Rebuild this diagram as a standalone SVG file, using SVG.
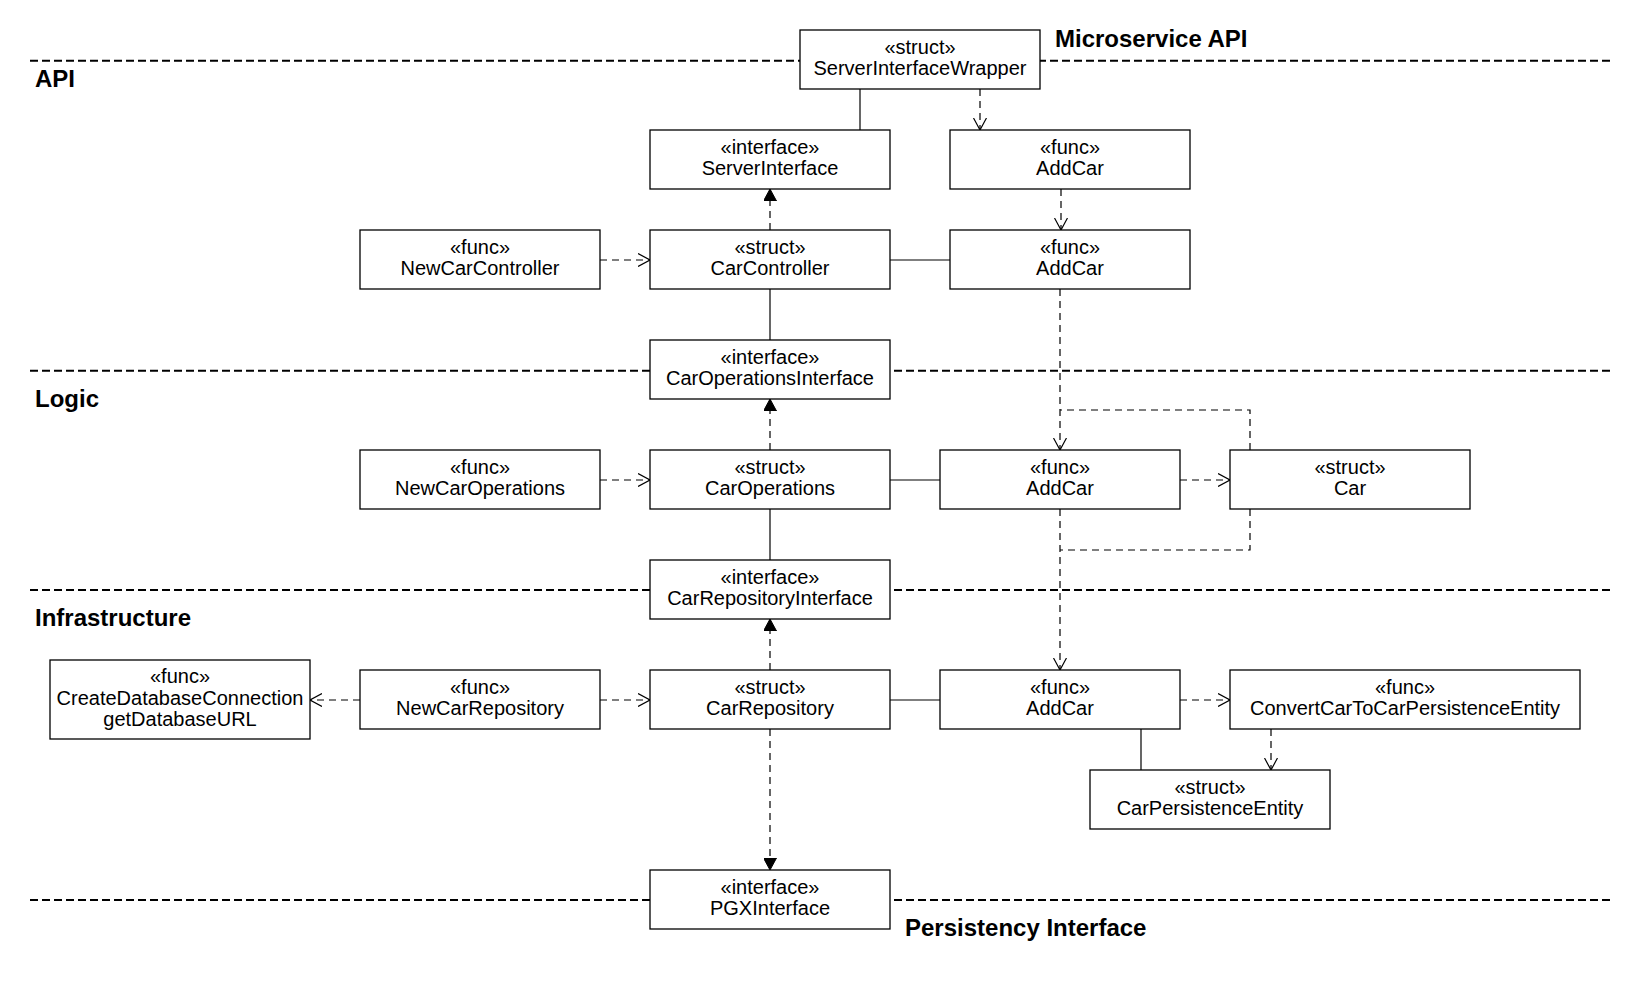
<svg xmlns="http://www.w3.org/2000/svg" width="1650" height="1000" viewBox="0 0 1650 1000">
<defs>
<style>
.bg{fill:#ffffff}
.sep{stroke:#000;stroke-width:2;stroke-dasharray:8 4;fill:none}
.box{fill:#ffffff;stroke:#000;stroke-width:1.3}
.t{font-family:"Liberation Sans",Arial,Helvetica,sans-serif;font-size:20px;fill:#000;text-anchor:middle}
.h{font-family:"Liberation Sans",Arial,Helvetica,sans-serif;font-size:24px;font-weight:bold;fill:#000}
.solid{stroke:#000;stroke-width:1.2;fill:none}
.dash{stroke:#000;stroke-width:1.2;fill:none;stroke-dasharray:7 5}
.dep{stroke:#000;stroke-width:1.2;fill:none;stroke-dasharray:7 5;marker-end:url(#open)}
.impl{stroke:#000;stroke-width:1.2;fill:none;stroke-dasharray:7 5;marker-end:url(#block)}
</style>
<marker id="open" viewBox="0 0 12 14" refX="12" refY="7" markerWidth="12" markerHeight="14" markerUnits="userSpaceOnUse" orient="auto">
<path d="M0,0.5 L12,7 L0,13.5" fill="none" stroke="#000" stroke-width="1.2"/>
</marker>
<marker id="block" viewBox="0 0 12 13" refX="12" refY="6.5" markerWidth="12" markerHeight="13" markerUnits="userSpaceOnUse" orient="auto">
<path d="M0,0 L12,6.5 L0,13 Z" fill="#000" stroke="#000" stroke-width="1"/>
</marker>
</defs>
<rect class="bg" x="0" y="0" width="1650" height="1000"/>

<g id="layers">
<line class="sep" x1="30" y1="60.7" x2="1612" y2="60.7"/>
<line class="sep" x1="30" y1="370.7" x2="1612" y2="370.7"/>
<line class="sep" x1="30" y1="590" x2="1612" y2="590"/>
<line class="sep" x1="30" y1="900" x2="1612" y2="900"/>
<text class="h" x="1055" y="47">Microservice API</text>
<text class="h" x="35" y="87">API</text>
<text class="h" x="35" y="407">Logic</text>
<text class="h" x="35" y="626">Infrastructure</text>
<text class="h" x="905" y="936">Persistency Interface</text>
</g>

<g id="connectors">
<line class="solid" x1="860" y1="89" x2="860" y2="130"/>
<line class="dep" x1="980" y1="89" x2="980" y2="130"/>
<line class="dep" x1="1061" y1="189" x2="1061" y2="230"/>
<line class="impl" x1="770" y1="230" x2="770" y2="189"/>
<line class="dep" x1="600" y1="260" x2="650" y2="260"/>
<line class="solid" x1="890" y1="260" x2="950" y2="260"/>
<line class="solid" x1="770" y1="289" x2="770" y2="340"/>
<line class="dep" x1="1060" y1="289" x2="1060" y2="450"/>
<polyline class="dash" points="1250,450 1250,410 1060,410"/>
<line class="impl" x1="770" y1="450" x2="770" y2="399"/>
<line class="dep" x1="600" y1="480" x2="650" y2="480"/>
<line class="solid" x1="890" y1="480" x2="940" y2="480"/>
<line class="dep" x1="1180" y1="480" x2="1230" y2="480"/>
<line class="solid" x1="770" y1="509" x2="770" y2="560"/>
<polyline class="dash" points="1250,509 1250,550 1060,550"/>
<line class="dep" x1="1060" y1="509" x2="1060" y2="670"/>
<line class="impl" x1="770" y1="670" x2="770" y2="619"/>
<line class="dep" x1="360" y1="700" x2="310" y2="700"/>
<line class="dep" x1="600" y1="700" x2="650" y2="700"/>
<line class="solid" x1="890" y1="700" x2="940" y2="700"/>
<line class="dep" x1="1180" y1="700" x2="1230" y2="700"/>
<line class="solid" x1="1141" y1="729" x2="1141" y2="770"/>
<line class="dep" x1="1271" y1="729" x2="1271" y2="770"/>
<line class="impl" x1="770" y1="729" x2="770" y2="870"/>
</g>

<g id="ServerInterfaceWrapper"><rect class="box" x="800" y="30" width="240" height="59"/><text class="t" x="920" y="54">«struct»</text><text class="t" x="920" y="75">ServerInterfaceWrapper</text></g>
<g id="ServerInterface"><rect class="box" x="650" y="130" width="240" height="59"/><text class="t" x="770" y="154">«interface»</text><text class="t" x="770" y="175">ServerInterface</text></g>
<g id="AddCar_api"><rect class="box" x="950" y="130" width="240" height="59"/><text class="t" x="1070" y="154">«func»</text><text class="t" x="1070" y="175">AddCar</text></g>
<g id="NewCarController"><rect class="box" x="360" y="230" width="240" height="59"/><text class="t" x="480" y="254">«func»</text><text class="t" x="480" y="275">NewCarController</text></g>
<g id="CarController"><rect class="box" x="650" y="230" width="240" height="59"/><text class="t" x="770" y="254">«struct»</text><text class="t" x="770" y="275">CarController</text></g>
<g id="AddCar_controller"><rect class="box" x="950" y="230" width="240" height="59"/><text class="t" x="1070" y="254">«func»</text><text class="t" x="1070" y="275">AddCar</text></g>
<g id="CarOperationsInterface"><rect class="box" x="650" y="340" width="240" height="59"/><text class="t" x="770" y="364">«interface»</text><text class="t" x="770" y="385">CarOperationsInterface</text></g>
<g id="NewCarOperations"><rect class="box" x="360" y="450" width="240" height="59"/><text class="t" x="480" y="474">«func»</text><text class="t" x="480" y="495">NewCarOperations</text></g>
<g id="CarOperations"><rect class="box" x="650" y="450" width="240" height="59"/><text class="t" x="770" y="474">«struct»</text><text class="t" x="770" y="495">CarOperations</text></g>
<g id="AddCar_operations"><rect class="box" x="940" y="450" width="240" height="59"/><text class="t" x="1060" y="474">«func»</text><text class="t" x="1060" y="495">AddCar</text></g>
<g id="Car"><rect class="box" x="1230" y="450" width="240" height="59"/><text class="t" x="1350" y="474">«struct»</text><text class="t" x="1350" y="495">Car</text></g>
<g id="CarRepositoryInterface"><rect class="box" x="650" y="560" width="240" height="59"/><text class="t" x="770" y="584">«interface»</text><text class="t" x="770" y="605">CarRepositoryInterface</text></g>
<g id="CreateDatabaseConnection"><rect class="box" x="50" y="660" width="260" height="79"/><text class="t" x="180" y="683">«func»</text><text class="t" x="180" y="704.5">CreateDatabaseConnection</text><text class="t" x="180" y="726">getDatabaseURL</text></g>
<g id="NewCarRepository"><rect class="box" x="360" y="670" width="240" height="59"/><text class="t" x="480" y="694">«func»</text><text class="t" x="480" y="715">NewCarRepository</text></g>
<g id="CarRepository"><rect class="box" x="650" y="670" width="240" height="59"/><text class="t" x="770" y="694">«struct»</text><text class="t" x="770" y="715">CarRepository</text></g>
<g id="AddCar_repository"><rect class="box" x="940" y="670" width="240" height="59"/><text class="t" x="1060" y="694">«func»</text><text class="t" x="1060" y="715">AddCar</text></g>
<g id="ConvertCarToCarPersistenceEntity"><rect class="box" x="1230" y="670" width="350" height="59"/><text class="t" x="1405" y="694">«func»</text><text class="t" x="1405" y="715">ConvertCarToCarPersistenceEntity</text></g>
<g id="CarPersistenceEntity"><rect class="box" x="1090" y="770" width="240" height="59"/><text class="t" x="1210" y="794">«struct»</text><text class="t" x="1210" y="815">CarPersistenceEntity</text></g>
<g id="PGXInterface"><rect class="box" x="650" y="870" width="240" height="59"/><text class="t" x="770" y="894">«interface»</text><text class="t" x="770" y="915">PGXInterface</text></g>
</svg>
